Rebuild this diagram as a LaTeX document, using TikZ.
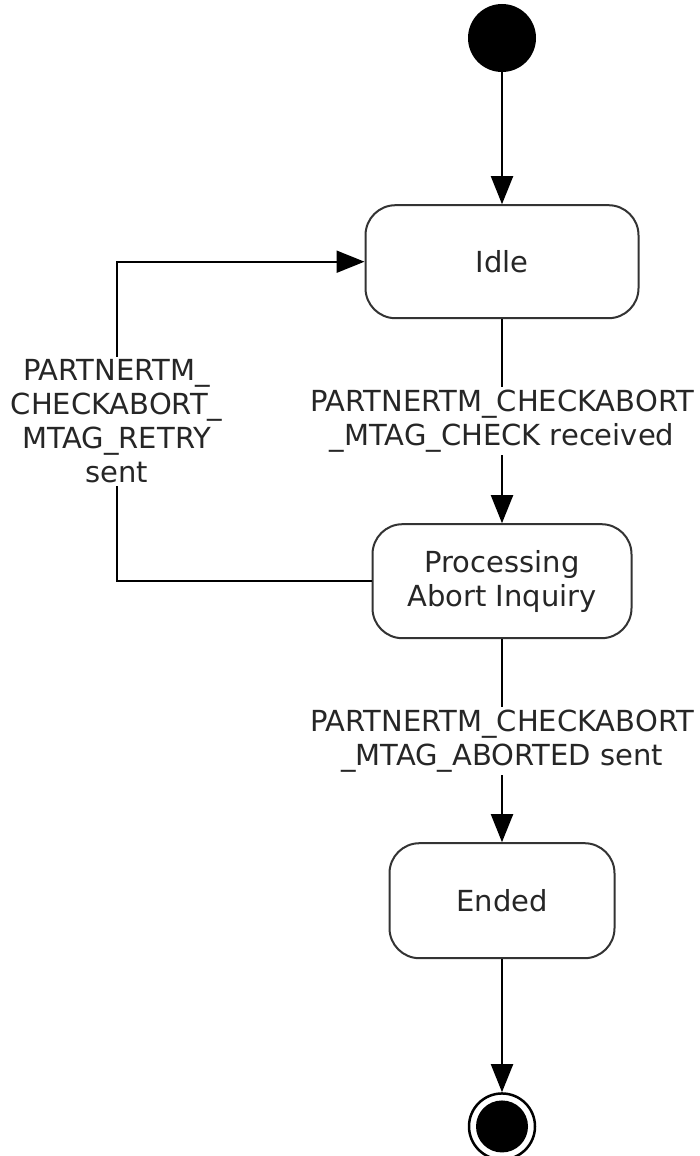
\documentclass[tikz,border=0pt]{standalone}
\usepackage{fontspec}
\setmainfont{DejaVu Sans}
\usetikzlibrary{positioning,arrows.meta}
\tikzset{
state/.style={
draw=black!80,
line width=2pt,
rounded corners=30pt,
align=center,
text=black!85,
font=\fontsize{29}{34}\selectfont
},
startstate/.style={
circle,
fill=black,
minimum size=68pt,
inner sep=0pt
},
endstate/.style={
circle,
draw,
line width=2.5pt,
minimum size=66pt,
inner sep=0pt,
path picture={\fill (path picture bounding box.center) circle (26pt);}
},
arrow/.style={
-{Triangle[length=28pt,width=22pt]},
line width=2pt
},
lbl/.style={
fill=white,
align=center,
inner sep=3pt,
text=black!85,
font=\fontsize{29}{34}\selectfont
}
}

\begin{document}
\begin{tikzpicture}[node distance=133pt]
\useasboundingbox (0,0) rectangle (699pt,-1156pt);
\node[startstate] (start) at (502pt,-38pt) {};
\node[state,minimum width=273pt,minimum height=113pt,below=132pt of start] (idle) {Idle};
\node[state,minimum width=259pt,minimum height=114pt,below=204pt of idle] (proc) {Processing\\Abort Inquiry};
\node[state,minimum width=225pt,minimum height=115pt,below=203pt of proc] (ended) {Ended};
\node[endstate,below=of ended] (stop) {};

\draw[arrow](start)--(idle);
\draw[arrow](idle)--node[lbl](lblcheck){PARTNERTM\_CHECKABORT\\\_MTAG\_CHECK received}(proc);
\draw[arrow](proc.west)--++(-255pt,0)|-node[lbl,pos=0.25](lblretry){PARTNERTM\_\\CHECKABORT\_\\MTAG\_RETRY\\sent}(idle.west);
\draw[arrow](proc)--node[lbl](lblabort){PARTNERTM\_CHECKABORT\\\_MTAG\_ABORTED sent}(ended);
\draw[arrow](ended)--(stop);
\end{tikzpicture}
\end{document}
